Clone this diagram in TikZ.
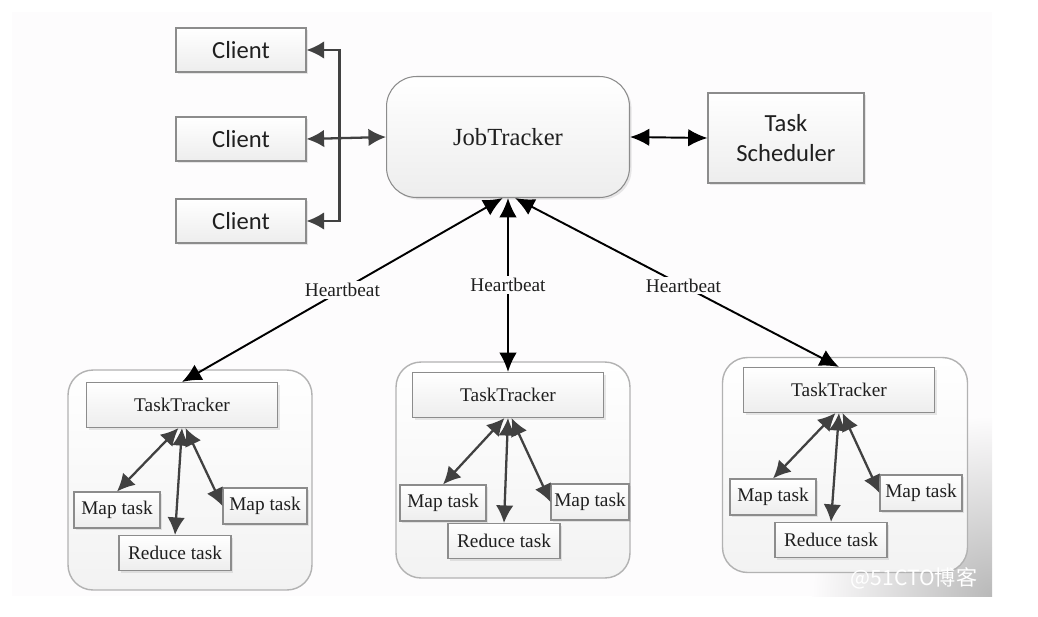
\documentclass[tikz,border=0pt]{standalone}
\usepackage{fontspec}
\setmainfont{Liberation Serif}
\newfontfamily\calibri{Carlito}
\newfontfamily\cjk{Noto Sans CJK SC}
\usepackage{tikz}
\usetikzlibrary{positioning, arrows.meta, shadows}
\usepackage{xcolor}
\definecolor{bgc}{HTML}{FDFCFD}
\definecolor{ink}{HTML}{1F1F1F}
\definecolor{rim}{HTML}{8C8C8C}

\begin{document}
\begin{tikzpicture}[x=0.02cm, y=-0.02cm,
    box/.style={draw=rim, line width=0.6pt, top color=white, bottom color=gray!14,
        drop shadow={opacity=0.18, shadow xshift=1.2pt, shadow yshift=-1.2pt},
        text=ink, inner sep=1pt},
    client/.style={box, minimum width=2.6cm, minimum height=0.88cm,
        font=\calibri\fontsize{14}{16}\selectfont},
    tracker/.style={box, minimum width=3.82cm, minimum height=0.9cm,
        font=\fontsize{11}{13}\selectfont},
    task/.style={box, minimum width=1.72cm, minimum height=0.72cm,
        font=\fontsize{11}{13}\selectfont},
    reduce/.style={task, minimum width=2.24cm, minimum height=0.7cm},
    group/.style={draw=gray!60, line width=0.8pt, rounded corners=0.5cm,
        top color=white, bottom color=gray!10},
    beat/.style={draw=black, line width=1.1pt,
        {Latex[length=11pt,width=10pt]}-{Latex[length=11pt,width=10pt]}},
    link/.style={draw=ink!85, line width=1.3pt,
        {Latex[length=10pt,width=10pt]}-{Latex[length=10pt,width=10pt]}},
    lbl/.style={fill=bgc, inner sep=1pt, text=ink, font=\fontsize{11}{13}\selectfont}
    ]

        % Background
        \useasboundingbox (0,0) rectangle (1038,616);
        \fill[bgc] (12,12) rectangle (992,596);
        \begin{scope}
            \clip (12,12) rectangle (992,596);
            \shade[inner color=gray!55, outer color=bgc] (992,596) circle (3.6cm);
        \end{scope}

        % Group frames
        \node[group, minimum width=4.88cm, minimum height=4.4cm] (g1) at (190,480) {};
        \node[group, minimum width=4.68cm, minimum height=4.32cm] (g2) at (513,470) {};
        \node[group, minimum width=4.9cm, minimum height=4.3cm] (g3) at (845,465) {};

        % Nodes for the top row
        \node[client] (c1) at (241,50) {Client};
        \node[client] (c2) at (241,139) {Client};
        \node[client] (c3) at (241,221) {Client};
        \node[box, rounded corners=0.6cm, minimum width=4.86cm, minimum height=2.42cm,
              font=\fontsize{14}{16}\selectfont] (jt) at (508,137) {JobTracker};
        \node[box, minimum width=3.12cm, minimum height=1.8cm, align=center,
              font=\calibri\fontsize{14}{17}\selectfont] (ts) at (786,138) {Task\\Scheduler};

        % Nodes for the first group
        \node[tracker] (tt1) at (182,405) {TaskTracker};
        \node[task] (m1a) at (117,510) {Map task};
        \node[task, minimum width=1.68cm] (m1b) at (265,506) {Map task};
        \node[reduce] (r1) at (175,553) {Reduce task};

        % Nodes for the second group
        \node[tracker] (tt2) at (508,395) {TaskTracker};
        \node[task] (m2a) at (443,503) {Map task};
        \node[task, minimum width=1.56cm] (m2b) at (590,502) {Map task};
        \node[reduce] (r2) at (504,541) {Reduce task};

        % Nodes for the third group
        \node[tracker] (tt3) at (839,390) {TaskTracker};
        \node[task] (m3a) at (773,497) {Map task};
        \node[task, minimum width=1.64cm] (m3b) at (921,493) {Map task};
        \node[reduce] (r3) at (831,540) {Reduce task};

        % Clients and scheduler
        \draw[link] (c1.east) -- ++(33,0) |- (c3.east);
        \draw[link] (c2.east) -- (jt.west);
        \draw[beat] (jt.east) -- (ts.west);

        % Heartbeats
        \draw[beat] ([xshift=-3pt]jt.south) -- node[lbl, pos=0.5] {Heartbeat} (tt1.north);
        \draw[beat] (jt.south) -- node[lbl, pos=0.5] {Heartbeat} (tt2.north);
        \draw[beat] ([xshift=4pt]jt.south) -- node[lbl, pos=0.52] {Heartbeat} (tt3.north);

        % Tasks inside the groups
        \draw[link] ([xshift=-2pt]tt1.south) -- (m1a.north);
        \draw[link] (tt1.south) -- (r1.north);
        \draw[link] ([xshift=2pt]tt1.south) -- (m1b.west);
        \draw[link] ([xshift=-2pt]tt2.south) -- (m2a.north);
        \draw[link] (tt2.south) -- (r2.north);
        \draw[link] ([xshift=2pt]tt2.south) -- (m2b.west);
        \draw[link] ([xshift=-2pt]tt3.south) -- (m3a.north);
        \draw[link] (tt3.south) -- (r3.north);
        \draw[link] ([xshift=2pt]tt3.south) -- (m3b.west);

        % Watermark
        \node[text=white, font=\cjk\fontsize{12}{14}\selectfont] (wm) at (914,578) {@51CTO博客};

    \end{tikzpicture}
\end{document}
